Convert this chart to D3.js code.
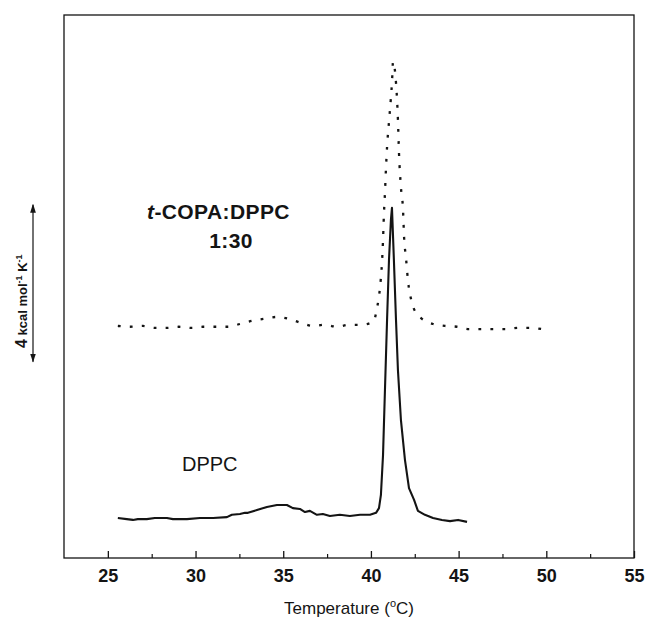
<!DOCTYPE html>
<html>
<head>
<meta charset="utf-8">
<script src="https://cdn.jsdelivr.net/npm/d3@7"></script>
<style>
  html, body { margin: 0; padding: 0; background: #fff; }
  svg { display: block; font-family: "Liberation Sans", Arial, sans-serif; }
</style>
</head>
<body>
<svg id="chart" width="646" height="620"></svg>
<script>
// Excess heat capacity (kcal mol^-1 K^-1, arbitrary offset) vs temperature (°C)

// Pure DPPC scan (solid trace)
const dppcT = [25.57, 26.08, 26.43, 26.71, 27.22, 27.68, 28.37, 28.71, 29.51, 30.25,
  31.0, 31.79, 32.07, 32.53, 32.82, 32.99, 33.50, 34.07, 34.64, 35.21,
  35.55, 35.95, 36.24, 36.52, 36.92, 37.26, 37.66, 38.23, 38.80, 39.38,
  39.95, 40.29, 40.46, 40.57, 40.69, 40.80, 40.92, 41.03, 41.14, 41.20,
  41.31, 41.43, 41.54, 41.71, 41.94, 42.17, 42.46, 42.68, 43.08, 43.54,
  44.05, 44.51, 44.97, 45.48];
const dppcCp = [1.02, 0.99, 0.97, 0.99, 0.99, 1.02, 1.02, 0.99, 0.99, 1.02,
  1.02, 1.04, 1.10, 1.12, 1.15, 1.15, 1.22, 1.30, 1.35, 1.35,
  1.27, 1.25, 1.17, 1.20, 1.10, 1.12, 1.07, 1.10, 1.07, 1.10,
  1.10, 1.15, 1.27, 1.61, 2.62, 4.28, 6.06, 7.59, 8.61, 8.92,
  7.59, 6.06, 4.79, 3.52, 2.50, 1.78, 1.48, 1.20, 1.10, 1.02,
  0.97, 0.94, 0.97, 0.92];

// t-COPA:DPPC 1:30 scan (dotted trace)
const copaT = [25.57, 26.25, 27.0, 27.68, 28.37, 29.05, 29.79, 30.42, 31.16, 31.85,
  32.53, 33.21, 33.90, 34.64, 35.33, 36.01, 36.69, 37.38, 38.06, 38.75,
  39.45, 40.12, 40.35, 40.52, 40.63, 40.69, 40.74, 40.80, 40.86, 40.92,
  41.03, 41.14, 41.20, 41.26, 41.43, 41.49, 41.54, 41.60, 41.71, 41.83,
  41.89, 42.00, 42.11, 42.34, 42.57, 42.86, 43.54, 44.22, 44.91, 45.59,
  46.33, 47.08, 47.76, 48.39, 49.07, 49.76];
const copaCp = [5.91, 5.89, 5.91, 5.86, 5.86, 5.89, 5.86, 5.89, 5.89, 5.89,
  5.96, 6.04, 6.09, 6.14, 6.09, 5.99, 5.91, 5.94, 5.89, 5.94,
  5.94, 6.01, 6.37, 6.90, 7.52, 8.10, 8.74, 9.30, 9.94, 10.47,
  11.11, 11.72, 12.10, 12.64, 12.10, 11.67, 11.16, 10.32, 9.45, 8.87,
  8.18, 7.64, 7.08, 6.50, 6.24, 6.11, 5.96, 5.91, 5.89, 5.83,
  5.83, 5.83, 5.83, 5.86, 5.86, 5.83];

const majorTicks = [25, 30, 35, 40, 45, 50, 55];
const minorTicks = [27.5, 32.5, 37.5, 42.5, 47.5, 52.5];
const xTitle = "Temperature (";
const scaleBar = [5, 9];   // 4 kcal mol^-1 K^-1 bar

const svg = d3.select("#chart");
const ink = "#141414";

const x = d3.scaleLinear().domain([22.5, 55]).range([64, 634]);
const y = d3.scaleLinear().domain([0, 13.83]).range([558, 15]);

// plot frame
svg.append("rect")
  .attr("x", x.range()[0]).attr("y", y.range()[1])
  .attr("width", x.range()[1] - x.range()[0])
  .attr("height", y.range()[0] - y.range()[1])
  .attr("fill", "none").attr("stroke", ink).attr("stroke-width", 1.3);

// bottom axis: major ticks with labels, minor ticks without
const gMajor = svg.append("g").attr("transform", `translate(0,${y.range()[0]})`)
  .call(d3.axisBottom(x).tickValues(majorTicks).tickSize(-7).tickSizeOuter(0).tickPadding(11));
gMajor.select(".domain").remove();
gMajor.selectAll(".tick line").attr("stroke", ink).attr("stroke-width", 1.3);
gMajor.selectAll(".tick text")
  .attr("fill", ink).style("font-size", "18px").style("font-weight", "bold");

const gMinor = svg.append("g").attr("transform", `translate(0,${y.range()[0]})`)
  .call(d3.axisBottom(x).tickValues(minorTicks).tickSize(-4).tickSizeOuter(0).tickFormat(""));
gMinor.select(".domain").remove();
gMinor.selectAll(".tick line").attr("stroke", ink).attr("stroke-width", 1.2);

// x axis title
const title = svg.append("text")
  .attr("x", (x.range()[0] + x.range()[1]) / 2).attr("y", 614)
  .attr("text-anchor", "middle").attr("fill", ink)
  .style("font-size", "17px");
title.append("tspan").text(xTitle);
title.append("tspan").attr("dy", -7).style("font-size", "11px").text("o");
title.append("tspan").attr("dy", 7).text("C)");

// traces
const line = d3.line().x(d => x(d[0])).y(d => y(d[1]));

svg.append("path")
  .datum(d3.zip(copaT, copaCp))
  .attr("d", line.curve(d3.curveMonotoneX))
  .attr("fill", "none").attr("stroke", ink)
  .attr("stroke-width", 2.3).attr("stroke-dasharray", "2.8 9.2");

svg.append("path")
  .datum(d3.zip(dppcT, dppcCp))
  .attr("d", line.curve(d3.curveLinear))
  .attr("fill", "none").attr("stroke", ink)
  .attr("stroke-width", 2.1).attr("stroke-linejoin", "round");

// trace labels
svg.append("text").attr("x", 147).attr("y", 219)
  .attr("fill", ink).style("font-size", "21px").style("font-weight", "bold")
  .style("letter-spacing", "0.4px")
  .call(t => {
    t.append("tspan").style("font-style", "italic").text("t");
    t.append("tspan").text("-COPA:DPPC");
  });
svg.append("text").attr("x", 231).attr("y", 248).attr("text-anchor", "middle")
  .attr("fill", ink).style("font-size", "21px").style("font-weight", "bold")
  .style("letter-spacing", "0.4px")
  .text("1:30");
svg.append("text").attr("x", 182).attr("y", 471)
  .attr("fill", ink).style("font-size", "20px")
  .text("DPPC");

// heat-capacity scale bar with arrows at both ends
const defs = svg.append("defs");
defs.append("marker").attr("id", "arrow")
  .attr("viewBox", "0 0 10 10").attr("refX", 9).attr("refY", 5)
  .attr("markerWidth", 9).attr("markerHeight", 9)
  .attr("markerUnits", "userSpaceOnUse").attr("orient", "auto-start-reverse")
  .append("path").attr("d", "M0,1.8 L10,5 L0,8.2 Z").attr("fill", ink);

const barX = 33;
svg.append("line")
  .attr("x1", barX).attr("x2", barX)
  .attr("y1", y(scaleBar[0])).attr("y2", y(scaleBar[1]))
  .attr("stroke", ink).attr("stroke-width", 1.2)
  .attr("marker-start", "url(#arrow)").attr("marker-end", "url(#arrow)");

const barLabel = svg.append("text")
  .attr("transform", `translate(27,${(y(scaleBar[0]) + y(scaleBar[1])) / 2 + 18}) rotate(-90)`)
  .attr("text-anchor", "middle").attr("fill", ink)
  .style("font-size", "13px").style("font-weight", "bold");
barLabel.append("tspan").style("font-size", "16px").text("4");
barLabel.append("tspan").text(" kcal mol");
barLabel.append("tspan").attr("dy", -5).style("font-size", "9px").text("-1");
barLabel.append("tspan").attr("dy", 5).text(" K");
barLabel.append("tspan").attr("dy", -5).style("font-size", "9px").text("-1");
</script>
</body>
</html>
